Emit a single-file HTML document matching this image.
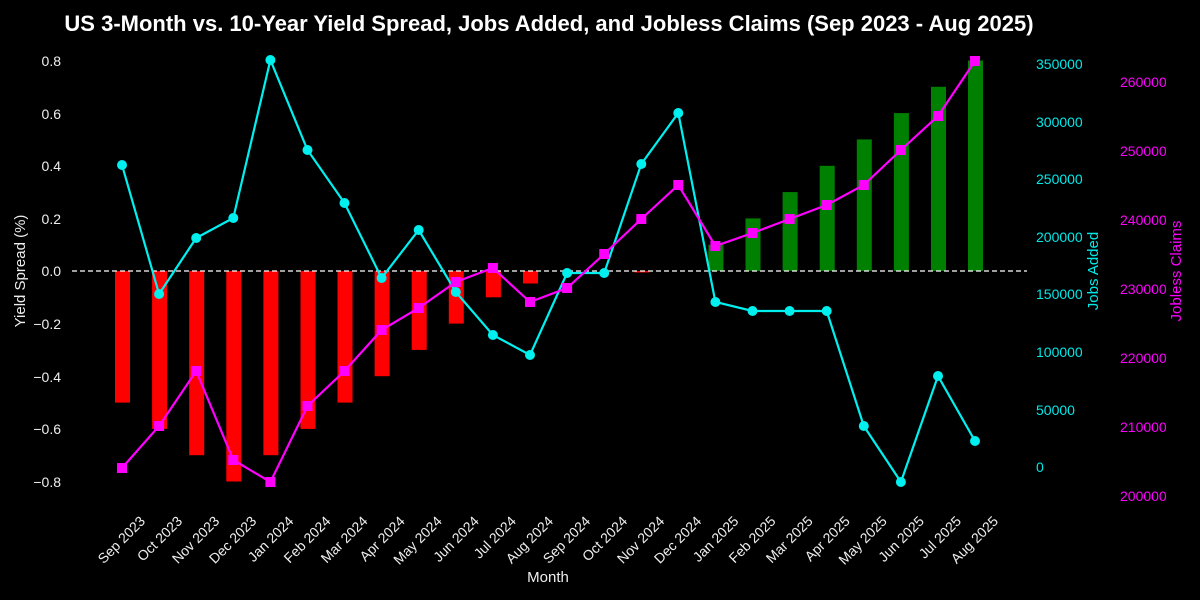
<!DOCTYPE html>
<html><head><meta charset="utf-8"><style>
body{margin:0;background:#000;}
svg{display:block;font-family:"Liberation Sans",sans-serif;}
</style></head><body>
<svg width="1200" height="600" viewBox="0 0 1200 600" xmlns="http://www.w3.org/2000/svg">
<rect width="1200" height="600" fill="#000"/>
<text x="549" y="31" fill="#fff" font-size="22" font-weight="bold" text-anchor="middle">US 3-Month vs. 10-Year Yield Spread, Jobs Added, and Jobless Claims (Sep 2023 - Aug 2025)</text>
<!-- bars -->
<g fill="#ff0000">
<rect x="115" y="271" width="15" height="131.6"/>
<rect x="152.1" y="271" width="15" height="157.9"/>
<rect x="189.2" y="271" width="15" height="184.2"/>
<rect x="226.3" y="271" width="15" height="210.5"/>
<rect x="263.4" y="271" width="15" height="184.2"/>
<rect x="300.5" y="271" width="15" height="157.9"/>
<rect x="337.5" y="271" width="15" height="131.6"/>
<rect x="374.6" y="271" width="15" height="105.2"/>
<rect x="411.7" y="271" width="15" height="78.9"/>
<rect x="448.8" y="271" width="15" height="52.6"/>
<rect x="485.9" y="271" width="15" height="26.3"/>
<rect x="523" y="271" width="15" height="12.5"/>
<rect x="634.3" y="271" width="15" height="1.5"/>
</g>
<g fill="#008000">
<rect x="708.4" y="244.7" width="15" height="26.3"/>
<rect x="745.5" y="218.4" width="15" height="52.6"/>
<rect x="782.6" y="192.1" width="15" height="78.9"/>
<rect x="819.7" y="165.8" width="15" height="105.2"/>
<rect x="856.8" y="139.4" width="15" height="131.6"/>
<rect x="893.9" y="113.1" width="15" height="157.9"/>
<rect x="931" y="86.8" width="15" height="184.2"/>
<rect x="968" y="60.5" width="15" height="210.5"/>
</g>
<line x1="72" y1="271" x2="1027" y2="271" stroke="#fff" stroke-width="1.3" stroke-dasharray="5,3"/>
<!-- jobs -->
<polyline fill="none" stroke="#00f0f0" stroke-width="2.2" points="122,165 159.1,294 196.2,238 233.3,218 270.4,60 307.5,150 344.5,203 381.6,278 418.7,230 455.8,292 492.9,335 530,355 567.1,273 604.2,273 641.3,164 678.3,113 715.4,302 752.5,311 789.6,311 826.7,311 863.8,426 900.9,482 938,376 975,441"/>
<g fill="#00f0f0">
<circle cx="122" cy="165" r="5"/><circle cx="159.1" cy="294" r="5"/><circle cx="196.2" cy="238" r="5"/><circle cx="233.3" cy="218" r="5"/><circle cx="270.4" cy="60" r="5"/><circle cx="307.5" cy="150" r="5"/><circle cx="344.5" cy="203" r="5"/><circle cx="381.6" cy="278" r="5"/><circle cx="418.7" cy="230" r="5"/><circle cx="455.8" cy="292" r="5"/><circle cx="492.9" cy="335" r="5"/><circle cx="530" cy="355" r="5"/><circle cx="567.1" cy="273" r="5"/><circle cx="604.2" cy="273" r="5"/><circle cx="641.3" cy="164" r="5"/><circle cx="678.3" cy="113" r="5"/><circle cx="715.4" cy="302" r="5"/><circle cx="752.5" cy="311" r="5"/><circle cx="789.6" cy="311" r="5"/><circle cx="826.7" cy="311" r="5"/><circle cx="863.8" cy="426" r="5"/><circle cx="900.9" cy="482" r="5"/><circle cx="938" cy="376" r="5"/><circle cx="975" cy="441" r="5"/>
</g>
<!-- claims -->
<polyline fill="none" stroke="#ff00ff" stroke-width="2.2" points="122,468 159.1,426 196.2,371 233.3,460 270.4,482 307.5,406 344.5,371 381.6,330 418.7,308 455.8,282 492.9,268 530,302 567.1,288 604.2,254 641.3,219 678.3,185 715.4,246 752.5,233 789.6,219 826.7,205 863.8,185 900.9,150 938,116 975,61"/>
<g fill="#ff00ff">
<rect x="117" y="463" width="10" height="10"/><rect x="154.1" y="421" width="10" height="10"/><rect x="191.2" y="366" width="10" height="10"/><rect x="228.3" y="455" width="10" height="10"/><rect x="265.4" y="477" width="10" height="10"/><rect x="302.5" y="401" width="10" height="10"/><rect x="339.5" y="366" width="10" height="10"/><rect x="376.6" y="325" width="10" height="10"/><rect x="413.7" y="303" width="10" height="10"/><rect x="450.8" y="277" width="10" height="10"/><rect x="487.9" y="263" width="10" height="10"/><rect x="525" y="297" width="10" height="10"/><rect x="562.1" y="283" width="10" height="10"/><rect x="599.2" y="249" width="10" height="10"/><rect x="636.3" y="214" width="10" height="10"/><rect x="673.3" y="180" width="10" height="10"/><rect x="710.4" y="241" width="10" height="10"/><rect x="747.5" y="228" width="10" height="10"/><rect x="784.6" y="214" width="10" height="10"/><rect x="821.7" y="200" width="10" height="10"/><rect x="858.8" y="180" width="10" height="10"/><rect x="895.9" y="145" width="10" height="10"/><rect x="933" y="111" width="10" height="10"/><rect x="970" y="56" width="10" height="10"/>
</g>
<!-- left axis labels -->
<g fill="#eee" font-size="14" text-anchor="end">
<text x="61" y="66">0.8</text><text x="61" y="119">0.6</text><text x="61" y="171">0.4</text><text x="61" y="224">0.2</text><text x="61" y="276">0.0</text><text x="61" y="329">−0.2</text><text x="61" y="382">−0.4</text><text x="61" y="434">−0.6</text><text x="61" y="487">−0.8</text>
</g>
<text transform="translate(25,271) rotate(-90)" fill="#eee" font-size="15" text-anchor="middle">Yield Spread (%)</text>
<g fill="#00e8e8" font-size="14">
<text x="1036" y="69">350000</text><text x="1036" y="127">300000</text><text x="1036" y="184">250000</text><text x="1036" y="242">200000</text><text x="1036" y="299">150000</text><text x="1036" y="357">100000</text><text x="1036" y="415">50000</text><text x="1036" y="472">0</text>
</g>
<text transform="translate(1098,271) rotate(-90)" fill="#00e8e8" font-size="15" text-anchor="middle">Jobs Added</text>
<g fill="#ff00ff" font-size="14">
<text x="1120" y="87">260000</text><text x="1120" y="156">250000</text><text x="1120" y="225">240000</text><text x="1120" y="294">230000</text><text x="1120" y="363">220000</text><text x="1120" y="432">210000</text><text x="1120" y="501">200000</text>
</g>
<text transform="translate(1181,271) rotate(-90)" fill="#ff00ff" font-size="15" text-anchor="middle">Jobless Claims</text>
<!-- x labels -->
<g fill="#eee" font-size="14" text-anchor="end">
<text transform="translate(146,522) rotate(-45)">Sep 2023</text>
<text transform="translate(183.1,522) rotate(-45)">Oct 2023</text>
<text transform="translate(220.2,522) rotate(-45)">Nov 2023</text>
<text transform="translate(257.3,522) rotate(-45)">Dec 2023</text>
<text transform="translate(294.4,522) rotate(-45)">Jan 2024</text>
<text transform="translate(331.5,522) rotate(-45)">Feb 2024</text>
<text transform="translate(368.5,522) rotate(-45)">Mar 2024</text>
<text transform="translate(405.6,522) rotate(-45)">Apr 2024</text>
<text transform="translate(442.7,522) rotate(-45)">May 2024</text>
<text transform="translate(479.8,522) rotate(-45)">Jun 2024</text>
<text transform="translate(516.9,522) rotate(-45)">Jul 2024</text>
<text transform="translate(554,522) rotate(-45)">Aug 2024</text>
<text transform="translate(591.1,522) rotate(-45)">Sep 2024</text>
<text transform="translate(628.2,522) rotate(-45)">Oct 2024</text>
<text transform="translate(665.3,522) rotate(-45)">Nov 2024</text>
<text transform="translate(702.3,522) rotate(-45)">Dec 2024</text>
<text transform="translate(739.4,522) rotate(-45)">Jan 2025</text>
<text transform="translate(776.5,522) rotate(-45)">Feb 2025</text>
<text transform="translate(813.6,522) rotate(-45)">Mar 2025</text>
<text transform="translate(850.7,522) rotate(-45)">Apr 2025</text>
<text transform="translate(887.8,522) rotate(-45)">May 2025</text>
<text transform="translate(924.9,522) rotate(-45)">Jun 2025</text>
<text transform="translate(962,522) rotate(-45)">Jul 2025</text>
<text transform="translate(999,522) rotate(-45)">Aug 2025</text>
</g>
<text x="548" y="582" fill="#eee" font-size="15" text-anchor="middle">Month</text>
</svg>
</body></html>
